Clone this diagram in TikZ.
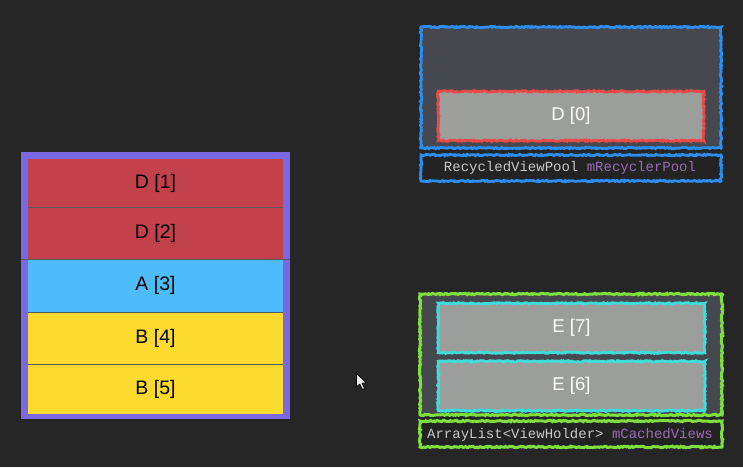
\documentclass[tikz,border=0pt]{standalone}
\usepackage{fontspec}
\setmainfont{Liberation Sans}
\newfontfamily\monofont{Liberation Mono}
\usetikzlibrary{decorations.pathmorphing}
\definecolor{bgc}{HTML}{262626}
\definecolor{stackpurple}{HTML}{7A68E2}
\definecolor{rowred}{HTML}{C2414A}
\definecolor{rowblue}{HTML}{4FBCFA}
\definecolor{rowyellow}{HTML}{FCDB2E}
\definecolor{poolgray}{HTML}{45484E}
\definecolor{cardgray}{HTML}{9C9E9B}
\definecolor{labelbg}{HTML}{232323}
\definecolor{sketchblue}{HTML}{2A8FF0}
\definecolor{sketchred}{HTML}{E84848}
\definecolor{sketchgreen}{HTML}{7EE03E}
\definecolor{sketchcyan}{HTML}{3FDCDC}
\definecolor{labeltext}{HTML}{C8C8C8}
\definecolor{labelpurple}{HTML}{9A6CB4}
\tikzset{
  rowbox/.style={minimum width=255pt, minimum height=52pt, inner sep=0pt, font=\fontsize{19.5}{21}\selectfont, text=black},
  rowsep/.style={draw=black!65, line width=0.7pt},
  sketchy/.style={decorate, decoration={random steps, segment length=1.5pt, amplitude=0.7pt}},
  cardbox/.style={fill=cardgray, inner sep=0pt, font=\fontsize{18.5}{20}\selectfont, text=white},
  labeltxt/.style={font=\monofont\fontsize{14}{16}\selectfont, text=labeltext, inner sep=0pt}
}
\begin{document}
\begin{tikzpicture}[x=1pt,y=-1pt]
\fill[bgc] (0,0) rectangle (743,467);
\useasboundingbox (0,0) rectangle (743,467);

% left stack
\node[fill=stackpurple, minimum width=269pt, minimum height=267pt, inner sep=0pt] (stack) at (155.5,285) {};
\node[rowbox, fill=rowred, minimum height=48pt] (r1) at (155.5,183) {D [1]};
\node[rowbox, fill=rowred, anchor=north] (r2) at (r1.south) {D [2]};
\node[rowbox, fill=rowblue, anchor=north] (r3) at (r2.south) {A [3]};
\node[rowbox, fill=rowyellow, anchor=north] (r4) at (r3.south) {B [4]};
\node[rowbox, fill=rowyellow, anchor=north, minimum height=49pt] (r5) at (r4.south) {B [5]};
\draw[rowsep] (r1.south west) -- (r1.south east);
\draw[rowsep] (stack.west |- r2.south) -- (stack.east |- r2.south);
\draw[rowsep] (r3.south west) -- (r3.south east);
\draw[rowsep] (r4.south west) -- (r4.south east);

% recycled view pool
\fill[poolgray] (421,27) rectangle (721,148);
\draw[sketchblue, line width=2.8pt, sketchy] (421,27) rectangle (721,148);
\fill[labelbg] (421,155) rectangle (721,181);
\draw[sketchblue, line width=2.8pt, sketchy] (421,155) rectangle (721,181);
\node[cardbox, minimum width=265pt, minimum height=49pt] (d0) at (571,116) {D [0]};
\draw[sketchred, line width=2.8pt, sketchy] (d0.north west) rectangle (d0.south east);
\node[labeltxt] (poollabel) at (570,168) {RecycledViewPool \textcolor{labelpurple}{mRecyclerPool}};

% cached views
\fill[poolgray] (420,294) rectangle (722,415);
\draw[sketchgreen, line width=3pt, sketchy] (420,294) rectangle (722,415);
\fill[labelbg] (420,421) rectangle (722,447);
\draw[sketchgreen, line width=3pt, sketchy] (420,421) rectangle (722,447);
\node[cardbox, minimum width=266pt, minimum height=49pt] (e7) at (571.5,328) {E [7]};
\draw[sketchcyan, line width=2.8pt, sketchy] (e7.north west) rectangle (e7.south east);
\node[cardbox, minimum width=266pt, minimum height=49pt] (e6) at (571.5,386) {E [6]};
\draw[sketchcyan, line width=2.8pt, sketchy] (e6.north west) rectangle (e6.south east);
\node[labeltxt] (cachelabel) at (570,435) {ArrayList<ViewHolder> \textcolor{labelpurple}{mCachedViews}};

% mouse cursor
\draw[black, fill=white!85!gray, line width=0.7pt, line join=round]
  (356.5,373.5) -- (356.5,387) -- (359.8,384) -- (362.5,389.5) -- (364.6,388.5) -- (362,383.2) -- (366.3,382.8) -- cycle;
\end{tikzpicture}
\end{document}
